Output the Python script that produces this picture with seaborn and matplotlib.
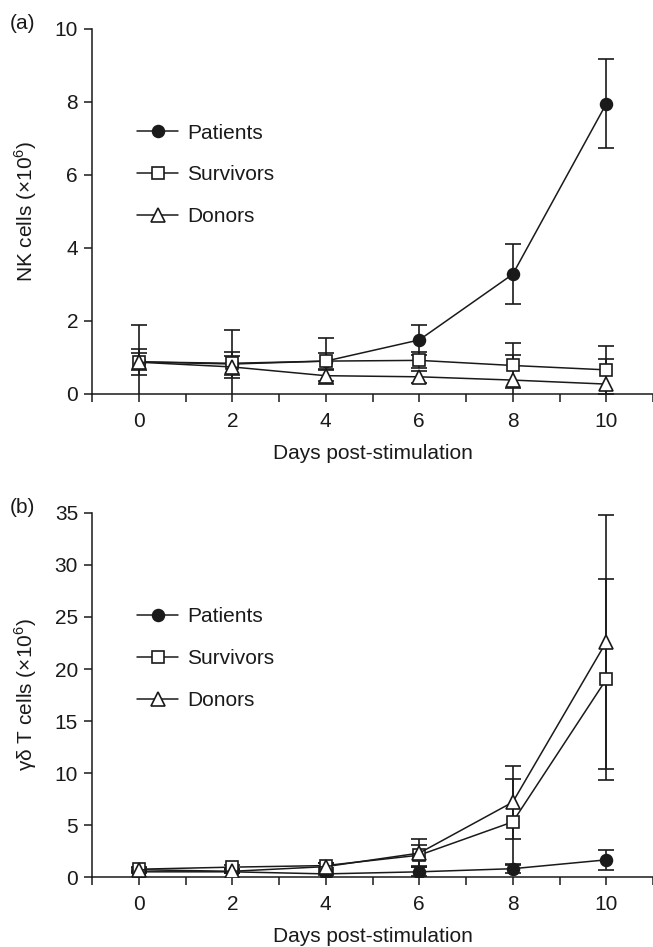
import matplotlib
matplotlib.use("Agg")
import matplotlib.pyplot as plt
import seaborn as sns
import pandas as pd
import numpy as np

days = [0, 2, 4, 6, 8, 10]
groups = ["Patients", "Survivors", "Donors"]

# Panel (a): NK cells (x10^6)
nk_patients = [0.88, 0.82, 0.90, 1.48, 3.28, 7.95]
nk_patients_err = [1.00, 0.93, 0.64, 0.42, 0.82, 1.22]
nk_survivors = [0.88, 0.84, 0.90, 0.92, 0.78, 0.66]
nk_survivors_err = [0.23, 0.32, 0.22, 0.22, 0.61, 0.66]
nk_donors = [0.87, 0.74, 0.50, 0.47, 0.38, 0.27]
nk_donors_err = [0.35, 0.30, 0.15, 0.16, 0.68, 0.69]

# Panel (b): gamma-delta T cells (x10^6)
gd_patients = [0.5, 0.5, 0.3, 0.5, 0.8, 1.65]
gd_patients_err = [0.15, 0.15, 0.15, 0.45, 0.45, 0.95]
gd_survivors = [0.75, 0.95, 1.1, 2.1, 5.3, 19.0]
gd_survivors_err = [0.2, 0.2, 0.25, 1.0, 4.1, 9.7]
gd_donors = [0.7, 0.55, 1.0, 2.3, 7.2, 22.6]
gd_donors_err = [0.2, 0.2, 0.3, 1.35, 3.5, 12.2]

sns.set_style("ticks")
plt.rcParams['font.family'] = ['Liberation Sans', 'DejaVu Sans']
plt.rcParams['mathtext.fontset'] = 'custom'
plt.rcParams['mathtext.rm'] = 'Liberation Sans'

INK = "#1a1a1a"
FS = 15

fig = plt.figure(figsize=(6.53, 9.47), dpi=100)
ax_a = fig.add_axes([0.1409, 0.584, 0.8591, 0.3854])
ax_b = fig.add_axes([0.1409, 0.0739, 0.8591, 0.3844])

styles = {
    "Patients": dict(marker="o", markerfacecolor=INK, markeredgecolor=INK, markersize=8.5),
    "Survivors": dict(marker="s", markerfacecolor="white", markeredgecolor=INK, markersize=9),
    "Donors": dict(marker="^", markerfacecolor="white", markeredgecolor=INK, markersize=9.5),
}


def draw(ax, vals, errs, ylim, yticks, ylabel, tag):
    rows = []
    for g in groups:
        for d, v, e in zip(days, vals[g], errs[g]):
            rows.append(dict(day=d, value=v, err=e, group=g))
    df = pd.DataFrame(rows)
    for g in groups:
        sub = df[df.group == g]
        ax.errorbar(sub.day, sub.value, yerr=sub.err, fmt="none", ecolor=INK,
                    elinewidth=1.2, capsize=6, capthick=1.2, zorder=2)
    for i, g in enumerate(groups):
        sub = df[df.group == g]
        sns.lineplot(data=sub, x="day", y="value", ax=ax, color=INK, linewidth=1.1,
                     markeredgewidth=1.2, label=g, zorder=3 + i, **styles[g])
    ax.set_xlim(-1, 11)
    ax.set_ylim(*ylim)
    ax.set_xticks(np.arange(-1, 12, 1))
    ax.set_xticklabels(["" if (t % 2 or t < 0) else str(t) for t in range(-1, 12)])
    ax.set_yticks(yticks)
    ax.tick_params(axis="both", labelsize=FS, length=6, width=1.1, color=INK,
                   labelcolor=INK, direction="out")
    ax.tick_params(axis="x", pad=7)
    ax.tick_params(axis="y", pad=4)
    for s in ["top", "right"]:
        ax.spines[s].set_visible(False)
    for s in ["left", "bottom"]:
        ax.spines[s].set_linewidth(1.1)
        ax.spines[s].set_color(INK)
    ax.set_xlabel("Days post-stimulation", fontsize=FS, color=INK, labelpad=9)
    ax.set_ylabel(ylabel, fontsize=FS, color=INK)
    ax.yaxis.set_label_coords(-0.094, 0.5)
    leg = ax.legend(loc="center left", bbox_to_anchor=(0.0654, 0.6), frameon=False, fontsize=FS,
                    handlelength=1.97, handletextpad=0.43, labelspacing=1.1, borderaxespad=0)
    for t in leg.get_texts():
        t.set_color(INK)
    ax.text(-0.146, 1.016, tag, transform=ax.transAxes, fontsize=FS, color=INK,
            ha="left", va="center")


draw(ax_a,
     {"Patients": nk_patients, "Survivors": nk_survivors, "Donors": nk_donors},
     {"Patients": nk_patients_err, "Survivors": nk_survivors_err, "Donors": nk_donors_err},
     (0, 10), [0, 2, 4, 6, 8, 10], r"NK cells ($\times$10$^{6}$)", "(a)")
draw(ax_b,
     {"Patients": gd_patients, "Survivors": gd_survivors, "Donors": gd_donors},
     {"Patients": gd_patients_err, "Survivors": gd_survivors_err, "Donors": gd_donors_err},
     (0, 35), [0, 5, 10, 15, 20, 25, 30, 35], r"γδ T cells ($\times$10$^{6}$)", "(b)")

fig.savefig("out.png", dpi=100)
